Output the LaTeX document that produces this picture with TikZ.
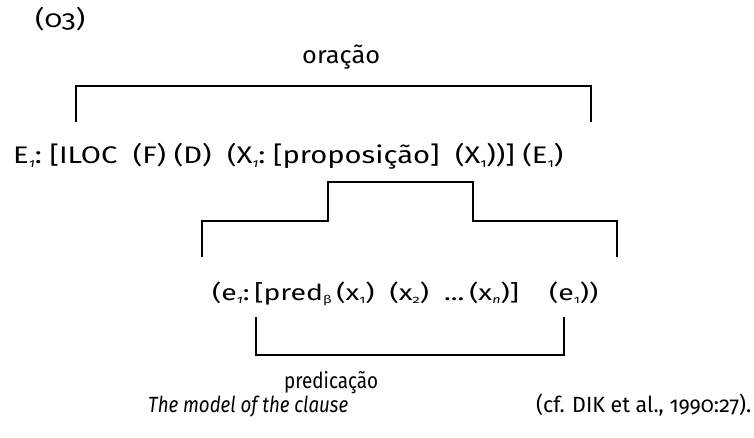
\documentclass[tikz,border=0pt]{standalone}
\usepackage{fontspec}
\usepackage{graphicx}
\setmainfont{Fira Sans}[Numbers=OldStyle]
\newcommand{\sbs}[1]{\raisebox{-0.3ex}{\scalebox{0.5}{#1}}}
\newcommand{\fitw}[2]{\resizebox{#1pt}{\height}{#2}}
\begin{document}
\begin{tikzpicture}[x=1pt,y=-1pt,
  txt/.style={inner sep=0pt,anchor=base west,font=\fontsize{24}{28}\selectfont},
  txts/.style={inner sep=0pt,anchor=base west,font=\fontsize{22}{26}\selectfont},
  brk/.style={line width=1.5pt,line join=miter}]
\useasboundingbox (0,0) rectangle (754,438);
\node[txt] (num) at (35,28) {\fitw{50}{(03)}};
\node[txt] (orac) at (302,64) {\fitw{78}{oração}};
% main line
\node[txt] (main) at (13,164) {\fitw{550}{E\sbs{\itshape 1}:\ [ILOC\ \ (F)\ (D)\ \ (X\sbs{\itshape 1}:\ [proposição]\ \ (X\sbs{1}))]\ (E\sbs{1})}};
% second line
\node[txts] (pred2) at (212,300) {\fitw{386}{(e\sbs{\itshape 1}:\,[pred\sbs{β}\,(x\sbs{1})\ \ (x\sbs{2})\ \ ...\,(x\sbs{\itshape n})]\ \ \ \ (e\sbs{1}))}};
\node[txts] (pred) at (284,388) {\fitw{94}{predicação}};
\node[txts] (cap) at (148,412) {\fitw{200}{\itshape The model of the clause}};
\node[txts] (ref) at (536,412) {\fitw{215}{(cf. DIK et al., 1990:27).}};
% brackets
\coordinate (a1) at (76,122); \coordinate (a2) at (591,122);
\draw[brk] (a1) |- (orac.south |- 0,86) -| (a2);
\coordinate (b1) at (202,257); \coordinate (b2) at (328,221);
\coordinate (b3) at (473,182); \coordinate (b4) at (617,257);
\draw[brk] (b1) |- (b2) |- (b3) |- (b4 |- b2) -- (b4);
\coordinate (c1) at (256,317); \coordinate (c2) at (564,317);
\draw[brk] (c1) |- (pred.north |- 0,355) -| (c2);
\end{tikzpicture}
\end{document}
